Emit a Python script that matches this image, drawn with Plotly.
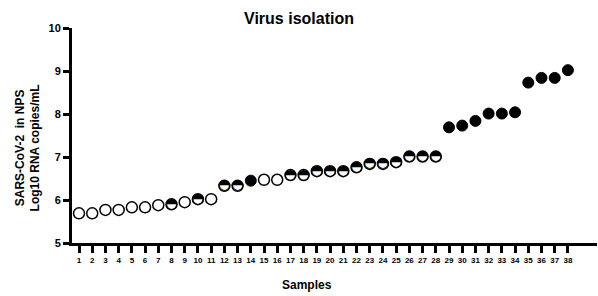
import plotly.graph_objects as go

samples = list(range(1, 39))
log10_copies = [5.69, 5.69, 5.77, 5.77, 5.83, 5.83, 5.88, 5.90, 5.95, 6.02,
                6.02, 6.33, 6.33, 6.45, 6.47, 6.47, 6.58, 6.58, 6.67, 6.67,
                6.67, 6.76, 6.84, 6.84, 6.88, 7.01, 7.01, 7.01, 7.69, 7.73,
                7.84, 8.01, 8.01, 8.04, 8.73, 8.84, 8.84, 9.02]
# isolation status: "neg" open, "half" top-half filled, "pos" filled
status = ["neg", "neg", "neg", "neg", "neg", "neg", "neg", "half", "neg", "half",
          "neg", "half", "half", "pos", "neg", "neg", "half", "half", "half", "half",
          "half", "half", "half", "half", "half", "half", "half", "half", "pos", "pos",
          "pos", "pos", "pos", "pos", "pos", "pos", "pos", "pos"]

title_text = "Virus isolation"
y_title = "SARS-CoV-2  in NPS<br>Log10 RNA copies/mL"
x_title = "Samples"

fig = go.Figure()

def subset(kind):
    xs = [s for s, k in zip(samples, status) if k == kind]
    ys = [v for v, k in zip(log10_copies, status) if k == kind]
    return xs, ys

MS = 11
xs, ys = subset("neg")
fig.add_trace(go.Scatter(x=xs, y=ys, mode="markers",
                         marker=dict(symbol="circle", size=MS, color="white",
                                     line=dict(color="black", width=1.5)),
                         showlegend=False, cliponaxis=False, hoverinfo="skip"))
xs, ys = subset("half")
fig.add_trace(go.Scatter(x=xs, y=ys, mode="markers",
                         marker=dict(symbol="circle", size=MS, color="white",
                                     line=dict(color="black", width=1.5)),
                         showlegend=False, cliponaxis=False, hoverinfo="skip"))
fig.add_trace(go.Scatter(x=xs, y=ys, mode="text", text=["\u25d3"] * len(xs),
                         textposition="middle center",
                         textfont=dict(family="DejaVu Sans", size=14, color="black"),
                         showlegend=False, cliponaxis=False, hoverinfo="skip"))
xs, ys = subset("pos")
fig.add_trace(go.Scatter(x=xs, y=ys, mode="markers",
                         marker=dict(symbol="circle", size=MS, color="black",
                                     line=dict(color="black", width=1)),
                         showlegend=False, cliponaxis=False, hoverinfo="skip"))

fig.update_layout(
    template="none",
    width=598, height=296,
    margin=dict(l=72, r=1, t=28, b=53, pad=0),
    paper_bgcolor="white", plot_bgcolor="white",
    font=dict(family="Liberation Sans", color="black"),
    title=dict(text="<b>" + title_text + "</b>", x=0.5, xref="container",
               y=1 - 18 / 296, yref="container", yanchor="middle",
               xanchor="center",
               font=dict(size=16, family="Liberation Sans")),
    xaxis=dict(range=[0.47, 40.2], tickmode="array", tickvals=samples,
               ticktext=["<b>%d</b>" % s for s in samples], showgrid=False, zeroline=False,
               automargin=False,
               showline=True, linewidth=3, linecolor="black",
               ticks="outside", ticklen=7, tickwidth=3, tickcolor="black",
               tickfont=dict(size=8, family="Liberation Sans")),
    yaxis=dict(range=[5, 10], tickvals=[5, 6, 7, 8, 9, 10],
               ticktext=["<b>5</b>", "<b>6</b>", "<b>7</b>", "<b>8</b>", "<b>9</b>", "<b>10</b>"],
               showgrid=False, zeroline=False, automargin=False,
               showline=True, linewidth=3, linecolor="black",
               ticks="outside", ticklen=6, tickwidth=3, tickcolor="black",
               tickfont=dict(size=11, family="Liberation Sans")),
    annotations=[
        dict(text="<b>" + y_title + "</b>", textangle=-90, showarrow=False,
             xref="paper", yref="paper", x=0, y=0.44, xanchor="center",
             yanchor="middle", xshift=-44,
             font=dict(size=12, family="Liberation Sans")),
        dict(text="<b>" + x_title + "</b>", showarrow=False,
             xref="paper", yref="paper", x=0.448, y=0, xanchor="center",
             yanchor="middle", yshift=-42,
             font=dict(size=12, family="Liberation Sans")),
    ],
)

fig.write_html("out.html", config={"displayModeBar": False},
               post_script="document.body.style.margin='0';document.body.style.overflow='hidden';")
